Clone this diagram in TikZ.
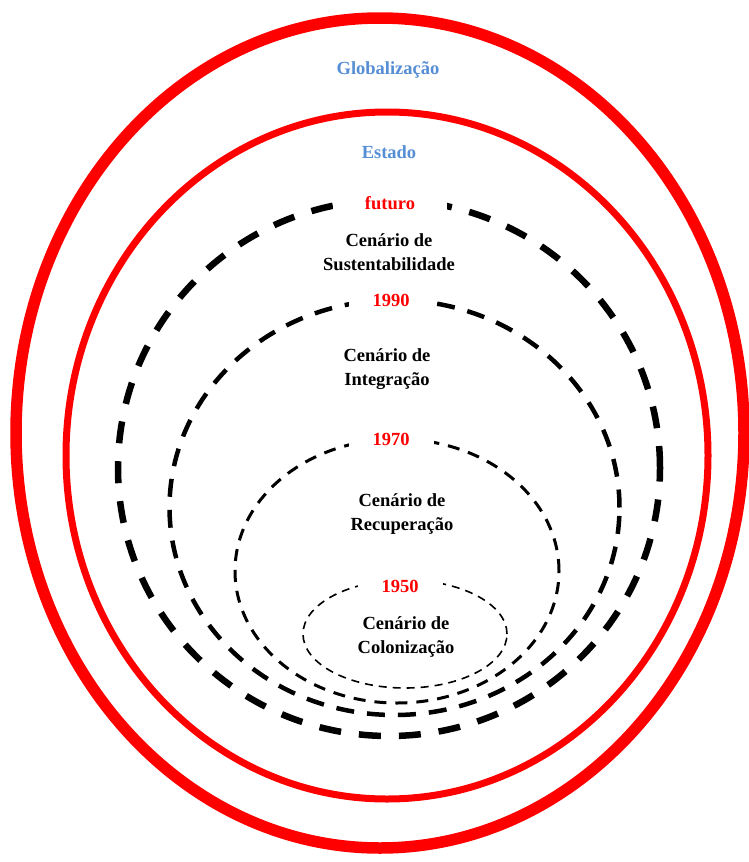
\documentclass[tikz,border=0pt]{standalone}
\usepackage{fontspec}
\setmainfont{Liberation Serif}
\definecolor{levelblue}{RGB}{85,142,213}
\begin{document}
\begin{tikzpicture}[x=1pt,y=-1pt,
  ring/.style={draw=red},
  scenario/.style={draw=black},
  lbl/.style={font=\fontsize{18.5}{24}\selectfont\bfseries, align=center, inner sep=0pt, anchor=base},
  level/.style={lbl, text=levelblue},
  period/.style={lbl, text=red, fill=white, inner xsep=24pt, inner ysep=5pt},
]
\useasboundingbox (0,0) rectangle (749,862);
\fill[white] (0,0) rectangle (749,862);

% outer rings
\draw[ring, line width=11.5pt] (380,433) ellipse [x radius=364pt, y radius=415pt];
\draw[ring, line width=7pt] (387,455.5) ellipse [x radius=321pt, y radius=343.5pt];

% nested scenarios
\draw[scenario, line width=6.5pt, dash pattern=on 22pt off 18pt] (389,468) ellipse [x radius=271pt, y radius=268pt];
\draw[scenario, line width=4.5pt, dash pattern=on 18pt off 13pt] (394.5,507.5) ellipse [x radius=225pt, y radius=207.5pt];
\draw[scenario, line width=3pt, dash pattern=on 12pt off 9pt] (397,571) ellipse [x radius=162pt, y radius=132pt];
\draw[scenario, line width=1.6pt, dash pattern=on 8pt off 6pt] (405,634) ellipse [x radius=102pt, y radius=54pt];

% labels (two-line nodes sit on the baseline of their last line)
\node[level] (glob) at (388,74) {Globalização};
\node[level] (estado) at (389,158) {Estado};

\node[period, inner xsep=32pt] (futuro) at (390,209) {futuro};
\node[lbl] (sust) at (389,270.7) {Cenário de\\Sustentabilidade};

\node[period] (p1990) at (391,306.7) {1990};
\node[lbl] (integ) at (387,385) {Cenário de\\Integração};

\node[period] (p1970) at (391,445) {1970};
\node[lbl] (recup) at (402,530) {Cenário de\\Recuperação};

\node[period] (p1950) at (400,592) {1950};
\node[lbl] (colon) at (406,653) {Cenário de\\Colonização};
\end{tikzpicture}
\end{document}
